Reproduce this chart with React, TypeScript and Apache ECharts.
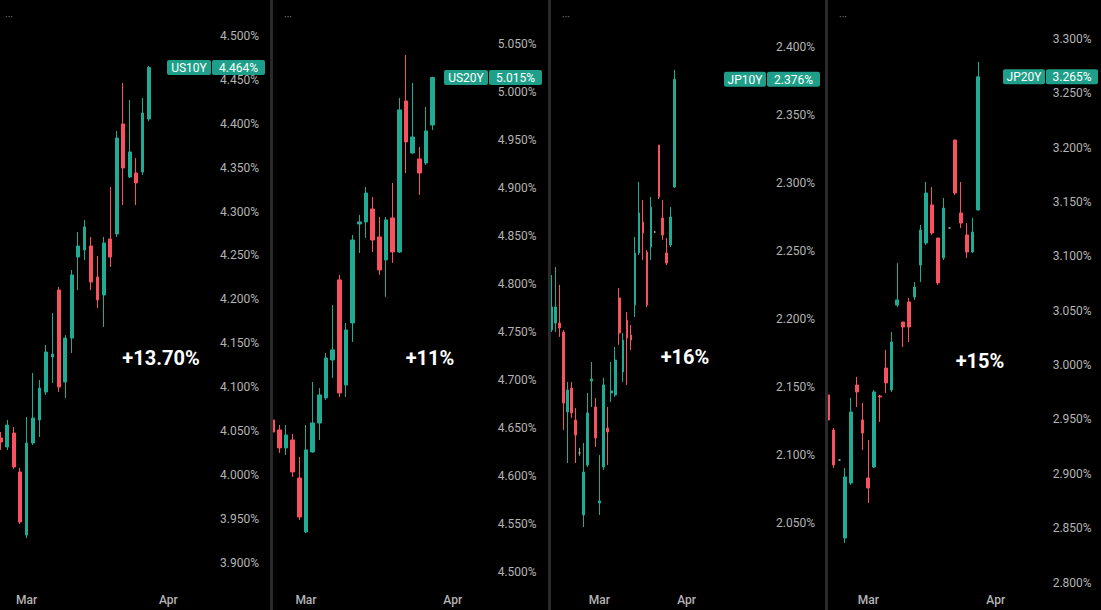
import React, { useEffect, useRef } from 'react';
import * as echarts from 'echarts';

// ---------- data ----------
const tradingDays = [
  '2026-02-12', '2026-02-13',
  '2026-02-16', '2026-02-17', '2026-02-18', '2026-02-19', '2026-02-20',
  '2026-02-23', '2026-02-24', '2026-02-25', '2026-02-26', '2026-02-27',
  '2026-03-02', '2026-03-03', '2026-03-04', '2026-03-05', '2026-03-06',
  '2026-03-09', '2026-03-10', '2026-03-11', '2026-03-12', '2026-03-13',
  '2026-03-16', '2026-03-17', '2026-03-18', '2026-03-19', '2026-03-20',
  '2026-03-23', '2026-03-24', '2026-03-25', '2026-03-26', '2026-03-27',
  '2026-03-30', '2026-03-31', '2026-04-01', '2026-04-02', '2026-04-03',
  '2026-04-06', '2026-04-07', '2026-04-08', '2026-04-09', '2026-04-10',
  '2026-04-13', '2026-04-14', '2026-04-15', '2026-04-16', '2026-04-17',
  '2026-04-20', '2026-04-21', '2026-04-22', '2026-04-23', '2026-04-24',
  '2026-04-27', '2026-04-28', '2026-04-29', '2026-04-30', '2026-05-01',
];
const monthLabels: Record<string, string> = { '2026-03-02': 'Mar', '2026-04-01': 'Apr' };

const symbols = ['US10Y', 'US20Y', 'JP10Y', 'JP20Y'];
const startDays = ['2026-02-24', '2026-02-23', '2026-02-12', '2026-02-19'];
const changeLabels = ['+13.70%', '+11%', '+16%', '+15%'];

// [open, close, low, high]
const us10y = [
  [4.0421, 4.0376, 4.0285, 4.0490],
  [4.0319, 4.0569, 4.0285, 4.0626],
  [4.0478, 4.0091, 4.0068, 4.0547],
  [4.0034, 3.9464, 3.9442, 4.0080],
  [3.9316, 4.0364, 3.9282, 4.0660],
  [4.0364, 4.0649, 4.0341, 4.1162],
  [4.0626, 4.0991, 4.0433, 4.1082],
  [4.0945, 4.1401, 4.0911, 4.1481],
  [4.1344, 4.1378, 4.1048, 4.1845],
  [4.2107, 4.1002, 4.0945, 4.2141],
  [4.1059, 4.1560, 4.0877, 4.1594],
  [4.1560, 4.2278, 4.1389, 4.2335],
  [4.2483, 4.2608, 4.2107, 4.2768],
  [4.2563, 4.2825, 4.2449, 4.2904],
  [4.2608, 4.2198, 4.2107, 4.2711],
  [4.2255, 4.1993, 4.1902, 4.2494],
  [4.2050, 4.2642, 4.1686, 4.2711],
  [4.2688, 4.2483, 4.2369, 4.3280],
  [4.2745, 4.3838, 4.2711, 4.3918],
  [4.3998, 4.3497, 4.3075, 4.4465],
  [4.3394, 4.3679, 4.3383, 4.4271],
  [4.3440, 4.3326, 4.3075, 4.3610],
  [4.3451, 4.4123, 4.3417, 4.4294],
  [4.4055, 4.4640, 4.4030, 4.4660],
];
const us20y = [
  [4.6583, 4.6458, 4.6406, 4.6667],
  [4.6479, 4.6292, 4.6240, 4.6531],
  [4.6292, 4.6427, 4.6219, 4.6531],
  [4.6375, 4.6042, 4.5990, 4.6438],
  [4.5979, 4.5573, 4.5542, 4.6198],
  [4.5417, 4.6271, 4.5406, 4.6531],
  [4.6250, 4.6552, 4.6240, 4.6979],
  [4.6552, 4.6844, 4.6375, 4.6917],
  [4.6813, 4.7229, 4.6792, 4.7281],
  [4.7208, 4.7313, 4.7021, 4.7781],
  [4.8042, 4.6865, 4.6823, 4.8094],
  [4.6948, 4.7521, 4.6823, 4.7594],
  [4.7594, 4.8458, 4.7396, 4.8510],
  [4.8625, 4.8646, 4.8323, 4.8719],
  [4.8646, 4.8948, 4.8479, 4.9010],
  [4.8781, 4.8458, 4.8333, 4.8906],
  [4.8490, 4.8146, 4.8094, 4.8698],
  [4.8250, 4.8667, 4.7865, 4.8698],
  [4.8688, 4.8333, 4.8219, 4.9052],
  [4.8333, 4.9813, 4.8323, 4.9938],
  [4.9906, 4.9479, 4.9156, 5.0385],
  [4.9365, 4.9531, 4.9354, 5.0094],
  [4.9302, 4.9156, 4.8927, 4.9427],
  [4.9260, 4.9594, 4.9240, 4.9844],
  [4.9656, 5.0150, 4.9604, 5.0160],
];
const jp10y = [
  [2.1917, 2.2086, 2.1902, 2.2321],
  [2.1968, 2.2086, 2.1902, 2.2380],
  [2.1968, 2.1932, 2.1866, 2.2248],
  [2.1902, 2.1380, 2.1182, 2.1917],
  [2.1314, 2.1476, 2.0939, 2.1535],
  [2.1490, 2.1307, 2.1270, 2.1535],
  [2.1255, 2.1145, 2.0939, 2.1343],
  [2.1013, 2.1013, 2.0992, 2.1050],
  [2.0557, 2.0873, 2.0468, 2.1086],
  [2.0924, 2.1307, 2.0910, 2.1454],
  [2.1542, 2.1557, 2.1351, 2.1682],
  [2.1351, 2.1123, 2.1057, 2.1417],
  [2.0645, 2.0660, 2.0557, 2.0998],
  [2.0910, 2.1513, 2.0888, 2.1564],
  [2.1196, 2.1167, 2.0924, 2.1351],
  [2.1454, 2.1469, 2.1388, 2.1682],
  [2.1439, 2.1696, 2.1425, 2.1792],
  [2.2152, 2.1895, 2.1807, 2.2226],
  [2.1608, 2.1843, 2.1535, 2.1895],
  [2.1990, 2.1858, 2.1513, 2.2049],
  [2.1880, 2.1843, 2.1770, 2.1954],
  [2.2101, 2.2483, 2.2013, 2.2601],
  [2.2483, 2.2777, 2.2469, 2.3005],
  [2.2711, 2.2630, 2.2432, 2.2873],
  [2.2490, 2.2101, 2.2086, 2.2505],
  [2.2527, 2.2821, 2.2432, 2.2895],
  [2.2637, 2.2637, 2.2630, 2.2645],
  [2.3277, 2.2895, 2.2880, 2.3277],
  [2.2740, 2.2615, 2.2579, 2.2873],
  [2.2483, 2.2409, 2.2394, 2.2594],
  [2.2542, 2.2748, 2.2527, 2.2821],
  [2.2968, 2.3760, 2.2961, 2.3829],
];
const jp20y = [
  [2.9725, 2.9496, 2.9477, 2.9771],
  [2.9404, 2.9082, 2.9054, 2.9422],
  [2.9128, 2.9128, 2.9120, 2.9136],
  [2.8411, 2.8972, 2.8365, 2.9054],
  [2.8916, 2.9569, 2.8898, 2.9698],
  [2.9817, 2.9753, 2.9615, 2.9891],
  [2.9496, 2.9376, 2.9220, 2.9652],
  [2.8962, 2.8870, 2.8733, 2.9312],
  [2.9063, 2.9753, 2.9054, 2.9771],
  [2.9716, 2.9707, 2.9477, 2.9725],
  [2.9973, 2.9836, 2.9744, 3.0139],
  [2.9771, 3.0212, 2.9753, 3.0304],
  [3.0552, 3.0599, 3.0534, 3.0938],
  [3.0396, 3.0350, 3.0166, 3.0396],
  [3.0580, 3.0350, 3.0212, 3.0617],
  [3.0626, 3.0718, 3.0599, 3.0763],
  [3.0920, 3.1242, 3.0764, 3.1288],
  [3.1122, 3.1582, 3.1104, 3.1683],
  [3.1472, 3.1214, 3.1196, 3.1637],
  [3.1168, 3.0755, 3.0736, 3.1168],
  [3.0985, 3.1444, 3.0966, 3.1536],
  [3.1260, 3.1260, 3.1255, 3.1265],
  [3.2069, 3.1582, 3.1563, 3.2069],
  [3.1398, 3.1306, 3.1260, 3.1683],
  [3.1196, 3.1040, 3.0985, 3.1306],
  [3.1040, 3.1223, 3.1031, 3.1352],
  [3.1426, 3.2650, 3.1420, 3.2786],
];
const seriesData = [us10y, us20y, jp10y, jp20y];

const us10yTicks = [3.9, 3.95, 4.0, 4.05, 4.1, 4.15, 4.2, 4.25, 4.3, 4.35, 4.4, 4.45, 4.5];
const us20yTicks = [4.5, 4.55, 4.6, 4.65, 4.7, 4.75, 4.8, 4.85, 4.9, 4.95, 5.0, 5.05];
const jp10yTicks = [2.05, 2.1, 2.15, 2.2, 2.25, 2.3, 2.35, 2.4];
const jp20yTicks = [2.8, 2.85, 2.9, 2.95, 3.0, 3.05, 3.1, 3.15, 3.2, 3.25, 3.3];
const tickLists = [us10yTicks, us20yTicks, jp10yTicks, jp20yTicks];

// ---------- layout / style ----------
const UP = '#22ab94';
const DOWN = '#f7525f';
const TAG = '#1f9f89';
const AXIS_TEXT = '#b4b4b4';
const GRID_TOP = 0;
const GRID_H = 588;

const layout = [
  { left: -2.36, slotW: 6.44, slots: 34, barW: 3.2, labelLeft: 220, min: 3.8713, max: 4.541, nameX: 167, nameW: 44, valX: 212, valW: 53, changeX: 161, changeY: 357.5, dotsX: 9 },
  { left: 269.3, slotW: 6.67, slots: 34, barW: 4, labelLeft: 497.7, min: 4.4833, max: 5.0958, nameX: 444, nameW: 44, valX: 489, valW: 53, changeX: 430, changeY: 358, dotsX: 288 },
  { left: 549.7, slotW: 3.97, slots: 56, barW: 2.2, labelLeft: 776, min: 2.002, max: 2.4343, nameX: 724, nameW: 42, valX: 767, valW: 53, changeX: 685, changeY: 356.7, dotsX: 566 },
  { left: 824.9, slotW: 5.79, slots: 39, barW: 3.2, labelLeft: 1052.7, min: 2.7951, max: 3.3356, nameX: 1003, nameW: 42, valX: 1046, valW: 52, changeX: 980, changeY: 361, dotsX: 843 },
];
const separators = [270, 548, 825];

export default function App() {
  const ref = useRef<HTMLDivElement>(null);

  useEffect(() => {
    document.body.style.margin = '0';
    document.body.style.background = '#000';
    if (!ref.current) return;
    const chart = echarts.init(ref.current, undefined, { renderer: 'svg' });

    const grids = layout.map((l) => ({
      left: l.left,
      top: GRID_TOP,
      width: l.slotW * l.slots,
      height: GRID_H,
      containLabel: false,
      outerBoundsMode: 'none',
    }));

    const xAxes = layout.map((l, i) => {
      const s = tradingDays.indexOf(startDays[i]);
      return {
        type: 'category',
        gridIndex: i,
        data: tradingDays.slice(s, s + l.slots),
        boundaryGap: true,
        axisLine: { show: false },
        axisTick: { show: false },
        splitLine: { show: false },
        axisLabel: {
          interval: (_idx: number, val: string) => val in monthLabels,
          formatter: (val: string) => monthLabels[val] || '',
          color: AXIS_TEXT,
          fontSize: 12,
          fontWeight: 500,
          fontFamily: 'Roboto',
          margin: 6,
        },
      };
    });

    const yAxes = layout.map((l, i) => ({
      type: 'value',
      gridIndex: i,
      position: 'right',
      min: l.min,
      max: l.max,
      axisLine: { show: false },
      axisTick: { show: false },
      splitLine: { show: false },
      axisLabel: {
        customValues: tickLists[i],
        formatter: (v: number) => v.toFixed(3) + '%',
        color: AXIS_TEXT,
        fontSize: 12,
        fontFamily: 'Roboto',
        margin: l.labelLeft - (l.left + l.slotW * l.slots),
      },
    }));

    const series = layout.map((l, i) => ({
      type: 'candlestick',
      name: symbols[i],
      xAxisIndex: i,
      yAxisIndex: i,
      data: seriesData[i],
      barWidth: l.barW,
      clip: true,
      silent: true,
      itemStyle: {
        color: UP,
        color0: DOWN,
        borderColor: UP,
        borderColor0: DOWN,
        borderColorDoji: '#9aa0a6',
        borderWidth: 1,
      },
    }));

    chart.setOption({
      animation: false,
      backgroundColor: '#000',
      grid: grids,
      xAxis: xAxes,
      yAxis: yAxes,
      series,
    } as any);

    const elements: any[] = [];
    layout.forEach((l, i) => {
      const data = seriesData[i];
      const last = data[data.length - 1][1];
      const py = chart.convertToPixel({ yAxisIndex: i } as any, last) as number;
      const h = 15;
      elements.push({
        type: 'rect', z: 10,
        shape: { x: l.nameX, y: py - h / 2, width: l.nameW, height: h, r: 2 },
        style: { fill: TAG },
      });
      elements.push({
        type: 'rect', z: 10,
        shape: { x: l.valX, y: py - h / 2, width: l.valW, height: h, r: 2 },
        style: { fill: TAG },
      });
      elements.push({
        type: 'text', z: 11, x: l.nameX + l.nameW / 2, y: py + 0.5,
        style: { text: symbols[i], fill: '#ffffff', fontSize: 12, fontFamily: 'Roboto', align: 'center', verticalAlign: 'middle' },
      });
      elements.push({
        type: 'text', z: 11, x: l.valX + l.valW / 2, y: py + 0.5,
        style: { text: last.toFixed(3) + '%', fill: '#ffffff', fontSize: 12, fontFamily: 'Roboto', align: 'center', verticalAlign: 'middle' },
      });
      elements.push({
        type: 'text', z: 11, x: l.changeX, y: l.changeY,
        style: { text: changeLabels[i], fill: '#ffffff', fontSize: 20, fontWeight: 'bold', fontFamily: 'Roboto', align: 'center', verticalAlign: 'middle' },
      });
      elements.push({
        type: 'text', z: 11, x: l.dotsX, y: 17,
        style: { text: '···', fill: '#8a8a8a', fontSize: 10, fontFamily: 'Roboto', align: 'center', verticalAlign: 'middle' },
      });
    });
    separators.forEach((x) => {
      elements.push({
        type: 'rect', z: 20,
        shape: { x, y: 0, width: 3, height: 610 },
        style: { fill: '#2a2a2a' },
      });
    });
    chart.setOption({ graphic: { elements } } as any);

    return () => chart.dispose();
  }, []);

  return <div ref={ref} style={{ width: 1101, height: 610 }} />;
}
